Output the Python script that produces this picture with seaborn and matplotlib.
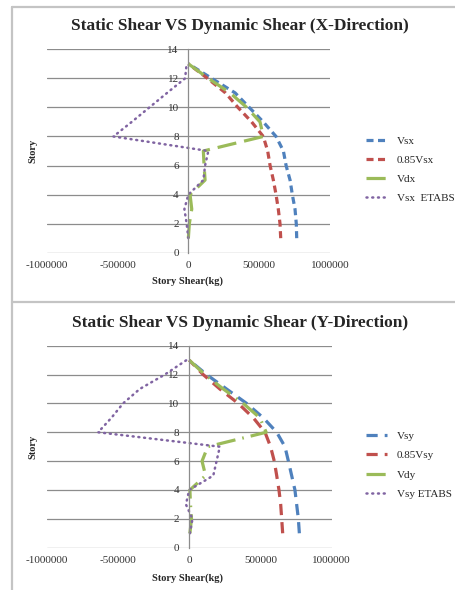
import numpy as np
import pandas as pd
import seaborn as sns
from matplotlib import pyplot as plt
from matplotlib.lines import Line2D

stories = [1, 2, 3, 4, 5, 6, 7, 8, 9, 10, 11, 12, 13]

# X-direction (kg)
vsx = [765000, 762000, 753000, 734000, 718000, 690000, 671000, 619000, 529000, 430000, 330000, 165000, 0]
vsx_085 = [652000, 647000, 635000, 619000, 600000, 577000, 560000, 529000, 447000, 350000, 262000, 135000, 0]
vdx = [0, 7000, 24000, 12000, 118000, 111000, 106000, 529000, 506000, 412000, 294000, 141000, 0]
vsx_etabs = [0, -12000, -28000, 0, 106000, 118000, 141000, -529000, -400000, -275000, -150000, -23000, -12000]

# Y-direction (kg)
vsy = [773000, 766000, 754000, 742000, 719000, 696000, 672000, 614000, 520000, 403000, 262000, 122000, 0]
vsy_085 = [656000, 649000, 642000, 630000, 614000, 597000, 571000, 532000, 450000, 344000, 215000, 98000, 0]
vdy = [5000, 16000, 9000, 5000, 115000, 90000, 130000, 540000, 496000, 379000, 239000, 110000, 0]
vsy_etabs = [5000, 23000, -23000, 0, 169000, 192000, 215000, -639000, -546000, -464000, -347000, -171000, -19000]

x_ticks = [-1000000, -500000, 0, 500000, 1000000]
y_ticks = [0, 2, 4, 6, 8, 10, 12, 14]

sns.set_theme(style="white")
plt.rcParams['font.family'] = ['Liberation Serif', 'DejaVu Serif']

blue = '#4F81BD'
red = '#C0504D'
green = '#9BBB59'
purple = '#8064A2'
grid_c = '#8C8C8C'

fig = plt.figure(figsize=(4.56, 5.9), dpi=100)

# panel borders
border = '#C4C4C4'
fig.add_artist(Line2D([12.5 / 456, 12.5 / 456], [1 - 7 / 590, 0], color=border, lw=1.6, transform=fig.transFigure))
fig.add_artist(Line2D([12.5 / 456, 1], [1 - 7 / 590, 1 - 7 / 590], color=border, lw=1.6, transform=fig.transFigure))
fig.add_artist(Line2D([12.5 / 456, 1], [1 - 302 / 590, 1 - 302 / 590], color=border, lw=1.6, transform=fig.transFigure))

panels = [
    dict(rect=[46.7 / 456, 1 - 252.7 / 590, 283.3 / 456, 203.4 / 590],
         title='Static Shear VS Dynamic Shear (X-Direction)', title_y=26.5,
         series=[vsx, vsx_085, vdx, vsx_etabs],
         labels=['Vsx', '0.85Vsx', 'Vdx', 'Vsx  ETABS'],
         styles=[(0, (2.2, 1.4)), (0, (2.2, 1.4)), (0, (6, 2.5)), (0, (0.4, 1.9))],
         legend_y=169.5),
    dict(rect=[46.7 / 456, 1 - 547.7 / 590, 285 / 456, 202 / 590],
         title='Static Shear VS Dynamic Shear (Y-Direction)', title_y=323,
         series=[vsy, vsy_085, vdy, vsy_etabs],
         labels=['Vsy', '0.85Vsy', 'Vdy', 'Vsy ETABS'],
         styles=[(0, (3.5, 2.2)), (0, (3.5, 2.2)), (0, (6, 2.2, 0.5, 2.2)), (0, (0.4, 1.9))],
         legend_y=465),
]
colors = [blue, red, green, purple]

for p in panels:
    ax = fig.add_axes(p['rect'])
    for vals, lab, ls, c in zip(p['series'], p['labels'], p['styles'], colors):
        df = pd.DataFrame({'shear': vals, 'story': stories})
        is_dot = c == purple
        sns.lineplot(data=df, x='shear', y='story', sort=False, estimator=None,
                     color=c, linestyle=ls, lw=1.8 if is_dot else 2.3, label=lab, ax=ax,
                     dash_capstyle='round' if is_dot else 'butt')
    ax.set_xlim(-1000000, 1000000)
    ax.set_ylim(0, 14)
    ax.set_xticks(x_ticks)
    ax.set_xticklabels([str(t) for t in x_ticks])
    ax.set_yticks(y_ticks)
    ax.set_yticklabels([str(t) for t in y_ticks])
    for t in y_ticks:
        ax.axhline(t, color=grid_c, lw=0.9, zorder=0)
    for s in ['top', 'right', 'bottom']:
        ax.spines[s].set_visible(False)
    ax.spines['left'].set_position(('data', 0))
    ax.spines['left'].set_color(grid_c)
    ax.spines['left'].set_linewidth(0.9)
    ax.tick_params(axis='y', length=3, pad=4, labelsize=8, colors='#333333', color=grid_c)
    ax.tick_params(axis='x', length=0, pad=6, labelsize=8, colors='#333333')
    ax.set_xlabel('')
    ax.set_ylabel('')
    ax.set_facecolor('none')
    ax.get_legend().remove()
    fig.text(240 / 456, 1 - p['title_y'] / 590, p['title'], ha='center', va='center',
             fontsize=12.5, fontweight='bold')
    fig.text(187.5 / 456, 1 - (p['title_y'] + 255) / 590, 'Story Shear(kg)', ha='center', va='center',
             fontsize=7.5, fontweight='bold')
    fig.text(32.5 / 456, 1 - (p['title_y'] + 124) / 590, 'Story', ha='center', va='center',
             rotation=90, fontsize=7.5, fontweight='bold')
    handles, labels = ax.get_legend_handles_labels()
    fig.legend(handles, labels, loc='center left', bbox_to_anchor=(366 / 456, 1 - p['legend_y'] / 590),
               frameon=False, fontsize=8, handlelength=1.9, handletextpad=0.9, labelspacing=0.85,
               borderaxespad=0, borderpad=0)

fig.savefig('out.png', dpi=100)
